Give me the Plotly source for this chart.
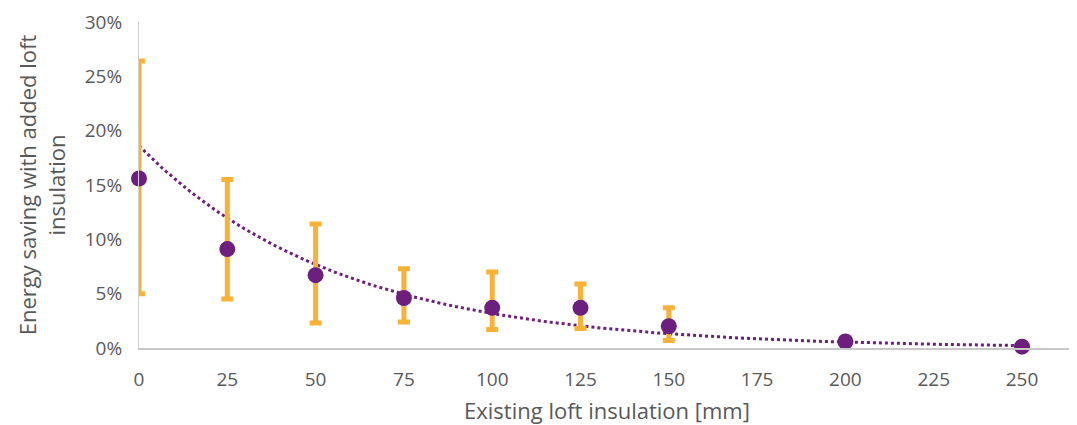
import numpy as np
import plotly.graph_objects as go

insulation_mm = [0, 25, 50, 75, 100, 125, 150, 200, 250]
saving_pct = [15.6, 9.1, 6.7, 4.6, 3.7, 3.7, 2.0, 0.6, 0.12]
err_upper = [26.4, 15.5, 11.4, 7.3, 7.0, 5.9, 3.7, 0.9, 0.12]
err_lower = [5.0, 4.5, 2.3, 2.4, 1.7, 1.8, 0.7, 0.45, 0.12]
x_ticks = [0, 25, 50, 75, 100, 125, 150, 175, 200, 225, 250]
y_ticks = [0, 5, 10, 15, 20, 25, 30]

x = np.array(insulation_mm, dtype=float)
y = np.array(saving_pct, dtype=float) / 100
up = np.array(err_upper) / 100 - y
lo = y - np.array(err_lower) / 100

# exponential trendline fitted to the data
b, lna = np.polyfit(x, np.log(y), 1)
xt = np.linspace(0, 250, 200)
yt = np.exp(lna) * np.exp(b * xt)

PURPLE = "#6c1f7d"
ORANGE = "#f9b138"
GREY = "#595959"
FONT = "Open Sans"

fig = go.Figure()
fig.add_trace(go.Scatter(
    x=xt, y=yt, mode="lines",
    line=dict(color=PURPLE, width=3, dash="dot"),
    showlegend=False, hoverinfo="skip",
))
fig.add_trace(go.Scatter(
    x=insulation_mm, y=y, mode="markers",
    marker=dict(color=PURPLE, size=16),
    error_y=dict(type="data", symmetric=False, array=up, arrayminus=lo,
                 color=ORANGE, thickness=5, width=6),
    showlegend=False, cliponaxis=False,
))

fig.update_layout(
    width=1069, height=417,
    margin=dict(l=131, r=2, t=14, b=77),
    plot_bgcolor="white", paper_bgcolor="white",
    font=dict(family=FONT, color=GREY, size=19),
)
fig.update_xaxes(
    range=[0, 265], tickvals=x_ticks, ticktext=[str(v) for v in x_ticks],
    showgrid=False, zeroline=False, showline=True, linecolor="#c8c8c8", linewidth=2,
    ticks="", tickfont=dict(size=19, color=GREY), ticklabelstandoff=13, automargin=False,
    title=dict(text="Existing loft insulation [mm]", font=dict(size=22, color=GREY), standoff=14),
)
fig.update_yaxes(
    range=[0, 0.30], tickvals=[v / 100 for v in y_ticks], ticktext=[f"{v}%" for v in y_ticks],
    showgrid=False, zeroline=False, showline=True, linecolor="#d0d0d0", linewidth=1,
    ticks="", tickfont=dict(size=19, color=GREY), ticklabelstandoff=12, automargin=False,
    title=dict(text="Energy saving with added loft<br>insulation", font=dict(size=22, color=GREY), standoff=13),
)

fig.write_html("out.html")
